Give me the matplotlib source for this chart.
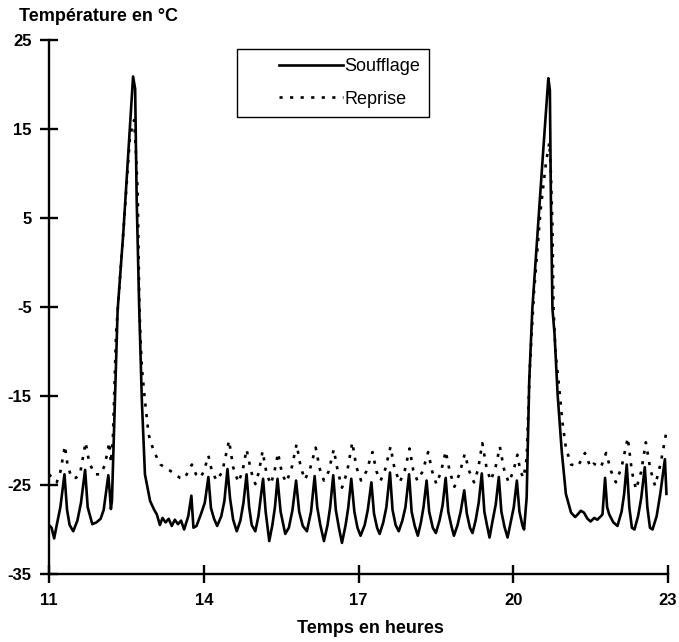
import matplotlib
matplotlib.use("Agg")
import matplotlib.pyplot as plt
from matplotlib.patches import Rectangle

plt.rcParams['font.family'] = ['Liberation Sans', 'DejaVu Sans']
plt.rcParams['axes.unicode_minus'] = False

# Soufflage (supply air)
t_souf = [11.00, 11.05, 11.10, 11.15, 11.22, 11.30, 11.35, 11.40, 11.47, 11.55, 11.62, 11.70, 11.75, 11.84,
          11.92, 12.00, 12.06, 12.15, 12.18, 12.20, 12.22, 12.28, 12.33, 12.44, 12.55, 12.63, 12.67, 12.70,
          12.75, 12.80, 12.86, 12.96, 13.04, 13.09, 13.15, 13.20, 13.26, 13.32, 13.38, 13.44, 13.50, 13.56,
          13.62, 13.70, 13.76, 13.80, 13.86, 13.95, 14.02, 14.09, 14.14, 14.20, 14.26, 14.34, 14.40, 14.46,
          14.51, 14.57, 14.64, 14.71, 14.77, 14.83, 14.88, 14.93, 15.00, 15.06, 15.15, 15.20, 15.27, 15.33,
          15.38, 15.43, 15.49, 15.58, 15.65, 15.72, 15.79, 15.85, 15.92, 16.00, 16.08, 16.15, 16.20, 16.26,
          16.33, 16.40, 16.45, 16.51, 16.56, 16.62, 16.68, 16.75, 16.80, 16.86, 16.92, 16.98, 17.04, 17.12,
          17.18, 17.25, 17.30, 17.36, 17.41, 17.48, 17.54, 17.61, 17.66, 17.72, 17.78, 17.85, 17.91, 17.98,
          18.03, 18.09, 18.15, 18.21, 18.26, 18.32, 18.37, 18.44, 18.50, 18.57, 18.63, 18.69, 18.74, 18.80,
          18.85, 18.92, 18.98, 19.05, 19.10, 19.16, 19.21, 19.27, 19.33, 19.39, 19.44, 19.49, 19.54, 19.60,
          19.66, 19.72, 19.77, 19.83, 19.89, 19.95, 20.01, 20.07, 20.12, 20.18, 20.21, 20.26, 20.31, 20.37,
          20.47, 20.58, 20.68, 20.71, 20.73, 20.76, 20.80, 20.86, 20.94, 21.02, 21.12, 21.20, 21.25, 21.31,
          21.37, 21.44, 21.50, 21.57, 21.63, 21.70, 21.73, 21.78, 21.82, 21.86, 21.94, 22.02, 22.10, 22.15,
          22.20, 22.25, 22.30, 22.35, 22.42, 22.48, 22.55, 22.60, 22.65, 22.70, 22.78, 22.85, 22.94, 22.97]
v_souf = [-29.5, -29.8, -31.0, -29.5, -27.5, -23.8, -27.8, -29.5, -30.2, -29.0, -27.0, -23.3, -27.5, -29.4,
          -29.2, -28.8, -27.8, -23.9, -26.0, -27.7, -26.8, -15.0, -5.4, 3.3, 13.5, 20.9, 19.5, 7.0,
          -5.4, -15.5, -23.8, -26.8, -27.8, -28.3, -29.5, -28.7, -29.2, -28.8, -29.6, -28.9, -29.4, -29.0,
          -30.0, -28.5, -26.2, -29.8, -29.6, -28.2, -27.0, -24.1, -27.6, -28.8, -29.6, -28.5, -26.8, -23.2,
          -26.5, -28.9, -30.2, -29.0, -27.0, -23.8, -27.5, -29.5, -30.2, -28.5, -24.3, -28.0, -31.3, -29.5,
          -27.5, -24.3, -28.0, -30.5, -29.8, -27.8, -24.5, -28.0, -29.6, -30.2, -28.0, -24.0, -27.5, -29.5,
          -31.3, -29.5, -27.5, -23.9, -27.8, -29.8, -31.5, -29.5, -27.6, -24.3, -28.0, -29.8, -30.7, -29.5,
          -27.8, -24.7, -28.2, -29.8, -30.5, -29.2, -27.5, -23.6, -27.8, -29.5, -30.2, -29.0, -27.5, -23.8,
          -28.0, -29.6, -30.7, -29.2, -27.5, -24.5, -28.0, -29.8, -30.4, -29.0, -27.3, -24.2, -28.0, -29.6,
          -30.7, -29.5, -28.0, -25.6, -28.2, -29.8, -30.4, -29.0, -27.0, -23.7, -28.0, -29.5, -30.9, -29.0,
          -27.2, -24.1, -28.0, -29.7, -30.9, -29.2, -27.5, -24.5, -28.0, -29.6, -30.0, -26.4, -13.3, -5.2,
          3.3, 12.5, 20.7, 19.4, 7.0, -5.2, -8.0, -14.8, -21.2, -26.0, -28.1, -28.6, -28.3, -27.9,
          -28.1, -28.8, -29.1, -28.7, -28.9, -28.5, -28.3, -24.2, -27.5, -28.3, -29.2, -29.6, -28.0, -26.0,
          -22.7, -27.5, -29.8, -30.0, -28.5, -26.5, -23.0, -27.5, -29.8, -30.0, -28.5, -26.0, -22.1, -26.0]

# Reprise (return air)
t_rep = [11.00, 11.08, 11.15, 11.22, 11.31, 11.36, 11.44, 11.52, 11.60, 11.71, 11.78, 11.89, 12.00, 12.08,
         12.17, 12.20, 12.24, 12.30, 12.36, 12.44, 12.57, 12.65, 12.68, 12.72, 12.75, 12.77, 12.80, 12.86,
         12.93, 13.03, 13.16, 13.35, 13.54, 13.62, 13.70, 13.77, 13.85, 13.93, 14.00, 14.09, 14.16, 14.25,
         14.36, 14.49, 14.57, 14.67, 14.75, 14.83, 14.92, 15.00, 15.07, 15.14, 15.22, 15.30, 15.37, 15.44,
         15.52, 15.60, 15.70, 15.80, 15.88, 15.96, 16.06, 16.17, 16.25, 16.33, 16.42, 16.52, 16.60, 16.68,
         16.78, 16.88, 16.96, 17.05, 17.15, 17.27, 17.35, 17.43, 17.52, 17.62, 17.70, 17.80, 17.90, 17.99,
         18.06, 18.14, 18.24, 18.35, 18.43, 18.51, 18.60, 18.69, 18.77, 18.86, 18.96, 19.06, 19.15, 19.24,
         19.32, 19.40, 19.48, 19.56, 19.65, 19.74, 19.82, 19.91, 20.00, 20.08, 20.14, 20.20, 20.26, 20.32,
         20.40, 20.53, 20.63, 20.70, 20.73, 20.76, 20.78, 20.82, 20.89, 20.95, 21.02, 21.12, 21.25, 21.32,
         21.39, 21.45, 21.50, 21.56, 21.62, 21.70, 21.80, 21.90, 21.99, 22.10, 22.22, 22.30, 22.38, 22.48,
         22.57, 22.66, 22.75, 22.86, 22.96]
v_rep = [-23.8, -24.3, -24.7, -23.5, -20.6, -22.8, -24.2, -24.2, -23.8, -20.2, -22.5, -23.8, -23.8, -22.8,
         -20.2, -22.5, -19.5, -8.0, -3.0, 3.3, 14.2, 16.0, 13.0, 7.8, -4.3, -8.0, -11.8, -15.5,
         -19.3, -21.2, -22.7, -23.4, -24.2, -24.3, -23.5, -22.7, -23.8, -24.2, -23.5, -21.7, -23.5, -24.5,
         -23.5, -20.0, -23.0, -24.7, -23.5, -21.0, -23.5, -24.9, -23.5, -21.2, -23.8, -24.9, -23.5, -21.4,
         -23.8, -24.7, -23.2, -20.4, -23.0, -24.4, -23.2, -20.8, -23.2, -24.5, -23.5, -21.0, -23.5, -25.3,
         -23.5, -20.2, -23.0, -24.5, -23.5, -21.3, -23.5, -24.5, -23.2, -20.7, -23.2, -24.7, -23.3, -20.9,
         -23.3, -24.5, -23.5, -21.3, -23.5, -24.9, -23.5, -21.2, -23.5, -25.2, -23.7, -21.5, -23.5, -24.7,
         -23.2, -20.3, -23.0, -24.5, -23.2, -20.7, -23.2, -24.7, -23.5, -21.6, -23.5, -24.2, -22.0, -12.0,
         -3.5, 5.9, 11.0, 13.5, 10.0, 4.0, -5.0, -10.2, -14.0, -17.8, -20.8, -22.7, -22.9, -22.2,
         -21.4, -22.3, -23.0, -22.6, -22.8, -23.0, -21.4, -23.5, -24.7, -23.0, -19.7, -23.5, -25.5, -23.5,
         -20.2, -23.3, -25.1, -22.5, -19.3]

x_ticks = [11, 14, 17, 20, 23]
y_ticks = [-35, -25, -15, -5, 5, 15, 25]
y_labels = ["-35", "-25", "-15", "-5", "5", "15", "25"]

W, H = 679, 642
fig = plt.figure(figsize=(W / 100, H / 100), dpi=100)
ax = fig.add_axes([49 / W, 1 - 574 / H, (668 - 49) / W, (574 - 40) / H])

ax.plot(t_souf, v_souf, color='black', lw=1.9, label='Soufflage')
ax.plot(t_rep, v_rep, color='black', lw=1.9, linestyle=(0, (1.2, 2.8)), label='Reprise')

ax.set_xlim(11, 23)
ax.set_ylim(-35, 25)
ax.set_xticks(x_ticks)
ax.set_xticklabels([str(v) for v in x_ticks], fontsize=12, fontweight='bold')
ax.set_yticks(y_ticks)
ax.set_yticklabels(y_labels, fontsize=12, fontweight='bold')

for s in ['top', 'right']:
    ax.spines[s].set_visible(False)
for s in ['left', 'bottom']:
    ax.spines[s].set_linewidth(1.7)
ax.tick_params(direction='inout', length=13, width=1.7)
ax.tick_params(axis='y', pad=6)
ax.tick_params(axis='x', pad=7)

fig.text(19 / W, 1 - 21 / H, "Température en °C", fontsize=13, fontweight='bold',
         ha='left', va='baseline')
fig.text(370 / W, 1 - 633 / H, "Temps en heures", fontsize=13, fontweight='bold',
         ha='center', va='baseline')

# legend frame (Excel-style, extra room on the left)
ax.add_patch(Rectangle((237 / W, 1 - 117 / H), (429 - 237) / W, (117 - 49) / H,
                       transform=fig.transFigure, facecolor='white', edgecolor='black',
                       lw=1.0, zorder=4, clip_on=False))
leg = ax.legend(loc='center left', bbox_to_anchor=(279 / W, 1 - 83 / H),
                bbox_transform=fig.transFigure, frameon=False,
                handlelength=3.55, handletextpad=0.05, fontsize=13, borderpad=0.0,
                labelspacing=0.85, borderaxespad=0)
leg.set_zorder(6)

fig.savefig('out.png', dpi=100)
